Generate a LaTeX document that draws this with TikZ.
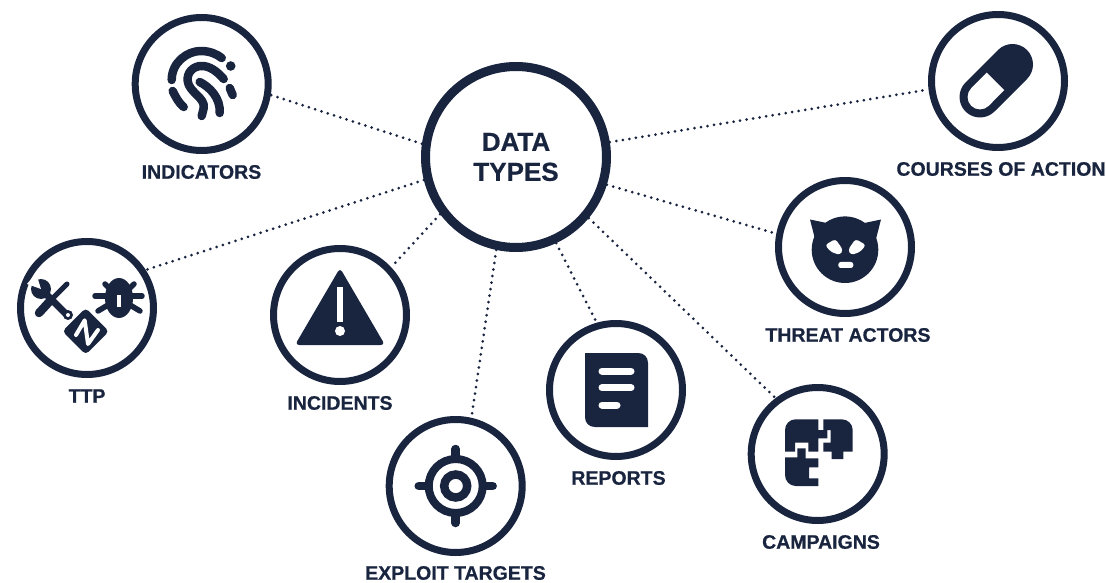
\documentclass[tikz,border=0pt]{standalone}
\usepackage{fontspec}
\setmainfont[BoldFeatures={FakeBold=0.6}]{Liberation Sans}
\usetikzlibrary{arrows.meta,positioning}
\definecolor{navydark}{HTML}{19243F}

\begin{document}
\begin{tikzpicture}[
    x=1pt,
    y=1pt,
    every node/.style={text=navydark},
    hubcircle/.style={
        circle,
        draw=navydark,
        fill=white,
        line width=9pt,
        minimum size=181pt,
        inner sep=0pt,
        align=center,
        font=\bfseries\fontsize{26}{30}\selectfont
    },
    iconcircle/.style={
        circle,
        draw=navydark,
        line width=7pt,
        minimum size=133pt,
        inner sep=0pt
    },
    caption/.style={
        inner sep=0pt,
        font=\bfseries\fontsize{19.5}{22}\selectfont
    },
    link/.style={
        navydark,
        line width=3pt,
        line cap=round,
        dash pattern=on 0pt off 6.6pt
    },
    ink/.style={navydark, line width=8.5pt, line cap=round, line join=round},
    wline/.style={white, line cap=round, line join=round}
]
    \useasboundingbox (0,0) rectangle (1106,582);

    % === HUB ===
    \node[hubcircle] (hub) at (516,425) {DATA\\TYPES};

    % === ICON CIRCLES ===
    \node[iconcircle] (indicators) at (201.7,498) {};
    \node[iconcircle] (ttp) at (87,274) {};
    \node[iconcircle] (incidents) at (340,267) {};
    \node[iconcircle] (exploit) at (455.7,96) {};
    \node[iconcircle] (reports) at (616,192) {};
    \node[iconcircle] (campaigns) at (817.7,128) {};
    \node[iconcircle] (threat) at (845,335) {};
    \node[iconcircle] (courses) at (998,501) {};

    % Captions
    \node[caption] (indicatorslabel) at (201.5,410) {INDICATORS};
    \node[caption] (ttplabel) at (87,186) {TTP};
    \node[caption] (incidentslabel) at (340,179) {INCIDENTS};
    \node[caption] (exploitlabel) at (455.5,9) {EXPLOIT TARGETS};
    \node[caption] (reportslabel) at (618.5,104) {REPORTS};
    \node[caption] (campaignslabel) at (821,40) {CAMPAIGNS};
    \node[caption] (threatlabel) at (848,247) {THREAT ACTORS};
    \node[caption] (courseslabel) at (1001,413) {COURSES OF ACTION};

    % === CONNECTORS ===
    \draw[link] (hub.172.7) -- (indicators.-9);
    \draw[link] (hub.194.3) -- (ttp.33);
    \draw[link] (hub.217) -- (incidents.43);
    \draw[link] (hub.258.8) -- (exploit.77.7);
    \draw[link] (hub.-65) -- (reports.106);
    \draw[link] (hub.-40.5) -- (campaigns.127);
    \draw[link] (hub.-17.3) -- (threat.169);
    \draw[link] (hub.9.5) -- (courses.187.5);

    % === FINGERPRINT ===
    \begin{scope}[shift={(indicators.center)}]
        \draw[ink] (-30,4) .. controls (-30,22) and (-14,33) .. (-1,33) .. controls (8,33) and (15,30) .. (20,26);
        \draw[ink] (22,5) .. controls (15,13) and (8,18) .. (0,18) .. controls (-9,18) and (-15,11) .. (-14,3) .. controls (-13,-8) and (4,-14) .. (2,-24) -- (0,-32);
        \draw[ink] (-2,2) .. controls (8,-3) and (19,-14) .. (18,-29);
        \draw[ink] (28,-4) -- (31,-11);
        \draw[ink] (-29,-7) .. controls (-26,-13) and (-23,-19) .. (-18,-23);
        \fill[navydark] (29,18) circle (4.8);
    \end{scope}

    % === TOOLS, BUG, Z ===
    \begin{scope}[shift={(ttp.center)}]
        % wrench
        \draw[navydark, line width=7pt] (-42,15) -- (-20,-7);
        \fill[navydark] (-46,19) circle (10);
        \fill[white] (-46,19) -- (-60,24) -- (-51,35) -- cycle;
        \fill[navydark] (-19,-7) circle (5);
        \fill[white] (-19,-7) circle (2);
        % screwdriver
        \draw[navydark, line width=5pt, line cap=round] (-20,24) -- (-36,8);
        \draw[ink] (-37,7) -- (-48,-5);
        % bug
        \draw[navydark, line width=5.5pt, line cap=round] (8,12) -- (55,12);
        \draw[navydark, line width=5.5pt, line cap=round] (18,24) -- (24,18);
        \draw[navydark, line width=5.5pt, line cap=round] (47,24) -- (41,18);
        \draw[navydark, line width=5.5pt, line cap=round] (11,-3) -- (21,3);
        \draw[navydark, line width=5.5pt, line cap=round] (53,-3) -- (43,3);
        \fill[navydark] (32,10) ellipse (14 and 20);
        \draw[white, line width=3.5pt] (32,13) -- (32,1);
        % z tag
        \fill[navydark, rounded corners=4pt] (-1.3,0) -- (22,-23.3) -- (-1.3,-46.6) -- (-24.6,-23.3) -- cycle;
        \draw[wline, line width=4pt] (-11,-27) -- (-2.3,-12.3) -- (1,-36) -- (11,-22);
    \end{scope}

    % === WARNING TRIANGLE ===
    \begin{scope}[shift={(incidents.center)}]
        \fill[navydark, rounded corners=4pt] (0,47) -- (-45,-30) -- (45,-30) -- cycle;
        \fill[white] (-3.3,28) rectangle (3.3,-7);
        \fill[white] (0,-16) circle (5);
    \end{scope}

    % === TARGET ===
    \begin{scope}[shift={(exploit.center)}]
        \draw[navydark, line width=8pt] (0,0) circle (27);
        \draw[navydark, line width=8.5pt] (0,0) circle (11.5);
        \draw[ink] (0,37) -- (0,29);
        \draw[ink] (0,-37) -- (0,-29);
        \draw[ink] (-37,0) -- (-29,0);
        \draw[ink] (37,0) -- (29,0);
    \end{scope}

    % === REPORT SHEET ===
    \begin{scope}[shift={(reports.center)}]
        \fill[navydark] (-31,37) -- (22,37) .. controls (28,37) and (32,33) .. (32,27) -- (32,-37) -- (-21,-37) .. controls (-27,-37) and (-31,-33) .. (-31,-27) -- cycle;
        \draw[wline, line width=7pt] (-14,19) -- (15,19);
        \draw[wline, line width=7pt] (-14,2.3) -- (15,2.3);
        \draw[wline, line width=7pt] (-14,-15) -- (1,-15);
    \end{scope}

    % === PUZZLE ===
    \begin{scope}[shift={(campaigns.center)}]
        \fill[navydark] (0.7,34.7) -- (0.7,24) -- (9.7,24) -- (9.7,15.7) -- (0.7,15.7) -- (0.7,2.3) -- (-9.3,2.3) -- (-9.3,11.3) -- (-22.7,11.3) -- (-22.7,2.3) -- (-32.7,2.3) -- (-32.7,24) .. controls (-32.7,30) and (-28,34.7) .. (-22,34.7) -- cycle;
        \fill[navydark] (5.7,34.7) -- (5.7,24) -- (13,24) -- (13,11.3) -- (5.7,11.3) -- (5.7,2.3) -- (14,2.3) -- (14,-5) -- (25.7,-5) -- (25.7,2.3) -- (35,2.3) -- (35,24) .. controls (35,30) and (30,34.7) .. (24,34.7) -- cycle;
        \fill[navydark] (-32.7,-3.3) -- (-20.3,-3.3) -- (-20.3,5.7) -- (-12,5.7) -- (-12,-4.3) -- (0.7,-4.3) -- (0.7,-13.3) -- (-8.7,-13.3) -- (-8.7,-24.3) -- (0.7,-24.3) -- (0.7,-32) -- (-22,-32) .. controls (-28,-32) and (-32.7,-27) .. (-32.7,-21) -- cycle;
    \end{scope}

    % === CAT MASK ===
    \begin{scope}[shift={(threat.center)}]
        \fill[navydark] (0,-2.7) circle (33.3);
        \fill[navydark] (-35,27.5) -- (-30,8) -- (-16,23.5) -- cycle;
        \fill[navydark] (36,27.5) -- (31,8) -- (17,23.5) -- cycle;
        \fill[white, rounded corners=3pt] (-20,2) -- (-9.5,8) -- (-2,-3) -- (-5,-8) -- (-14,-5) -- cycle;
        \fill[white, rounded corners=3pt] (21,2) -- (10.5,8) -- (3,-3) -- (6,-8) -- (15,-5) -- cycle;
        \fill[white, rounded corners=2.5pt] (-6.7,-15) rectangle (8.3,-21);
    \end{scope}

    % === PILL ===
    \begin{scope}[shift={(courses.center)}]
        \draw[navydark, line width=41pt, line cap=round] (-18,-16) -- (14.5,16.5);
        \fill[white] (-11.27,8.47) -- (6.27,-9.07) -- (-9.23,-24.77) arc (-45:-225:12.4) -- cycle;
    \end{scope}
\end{tikzpicture}
\end{document}
